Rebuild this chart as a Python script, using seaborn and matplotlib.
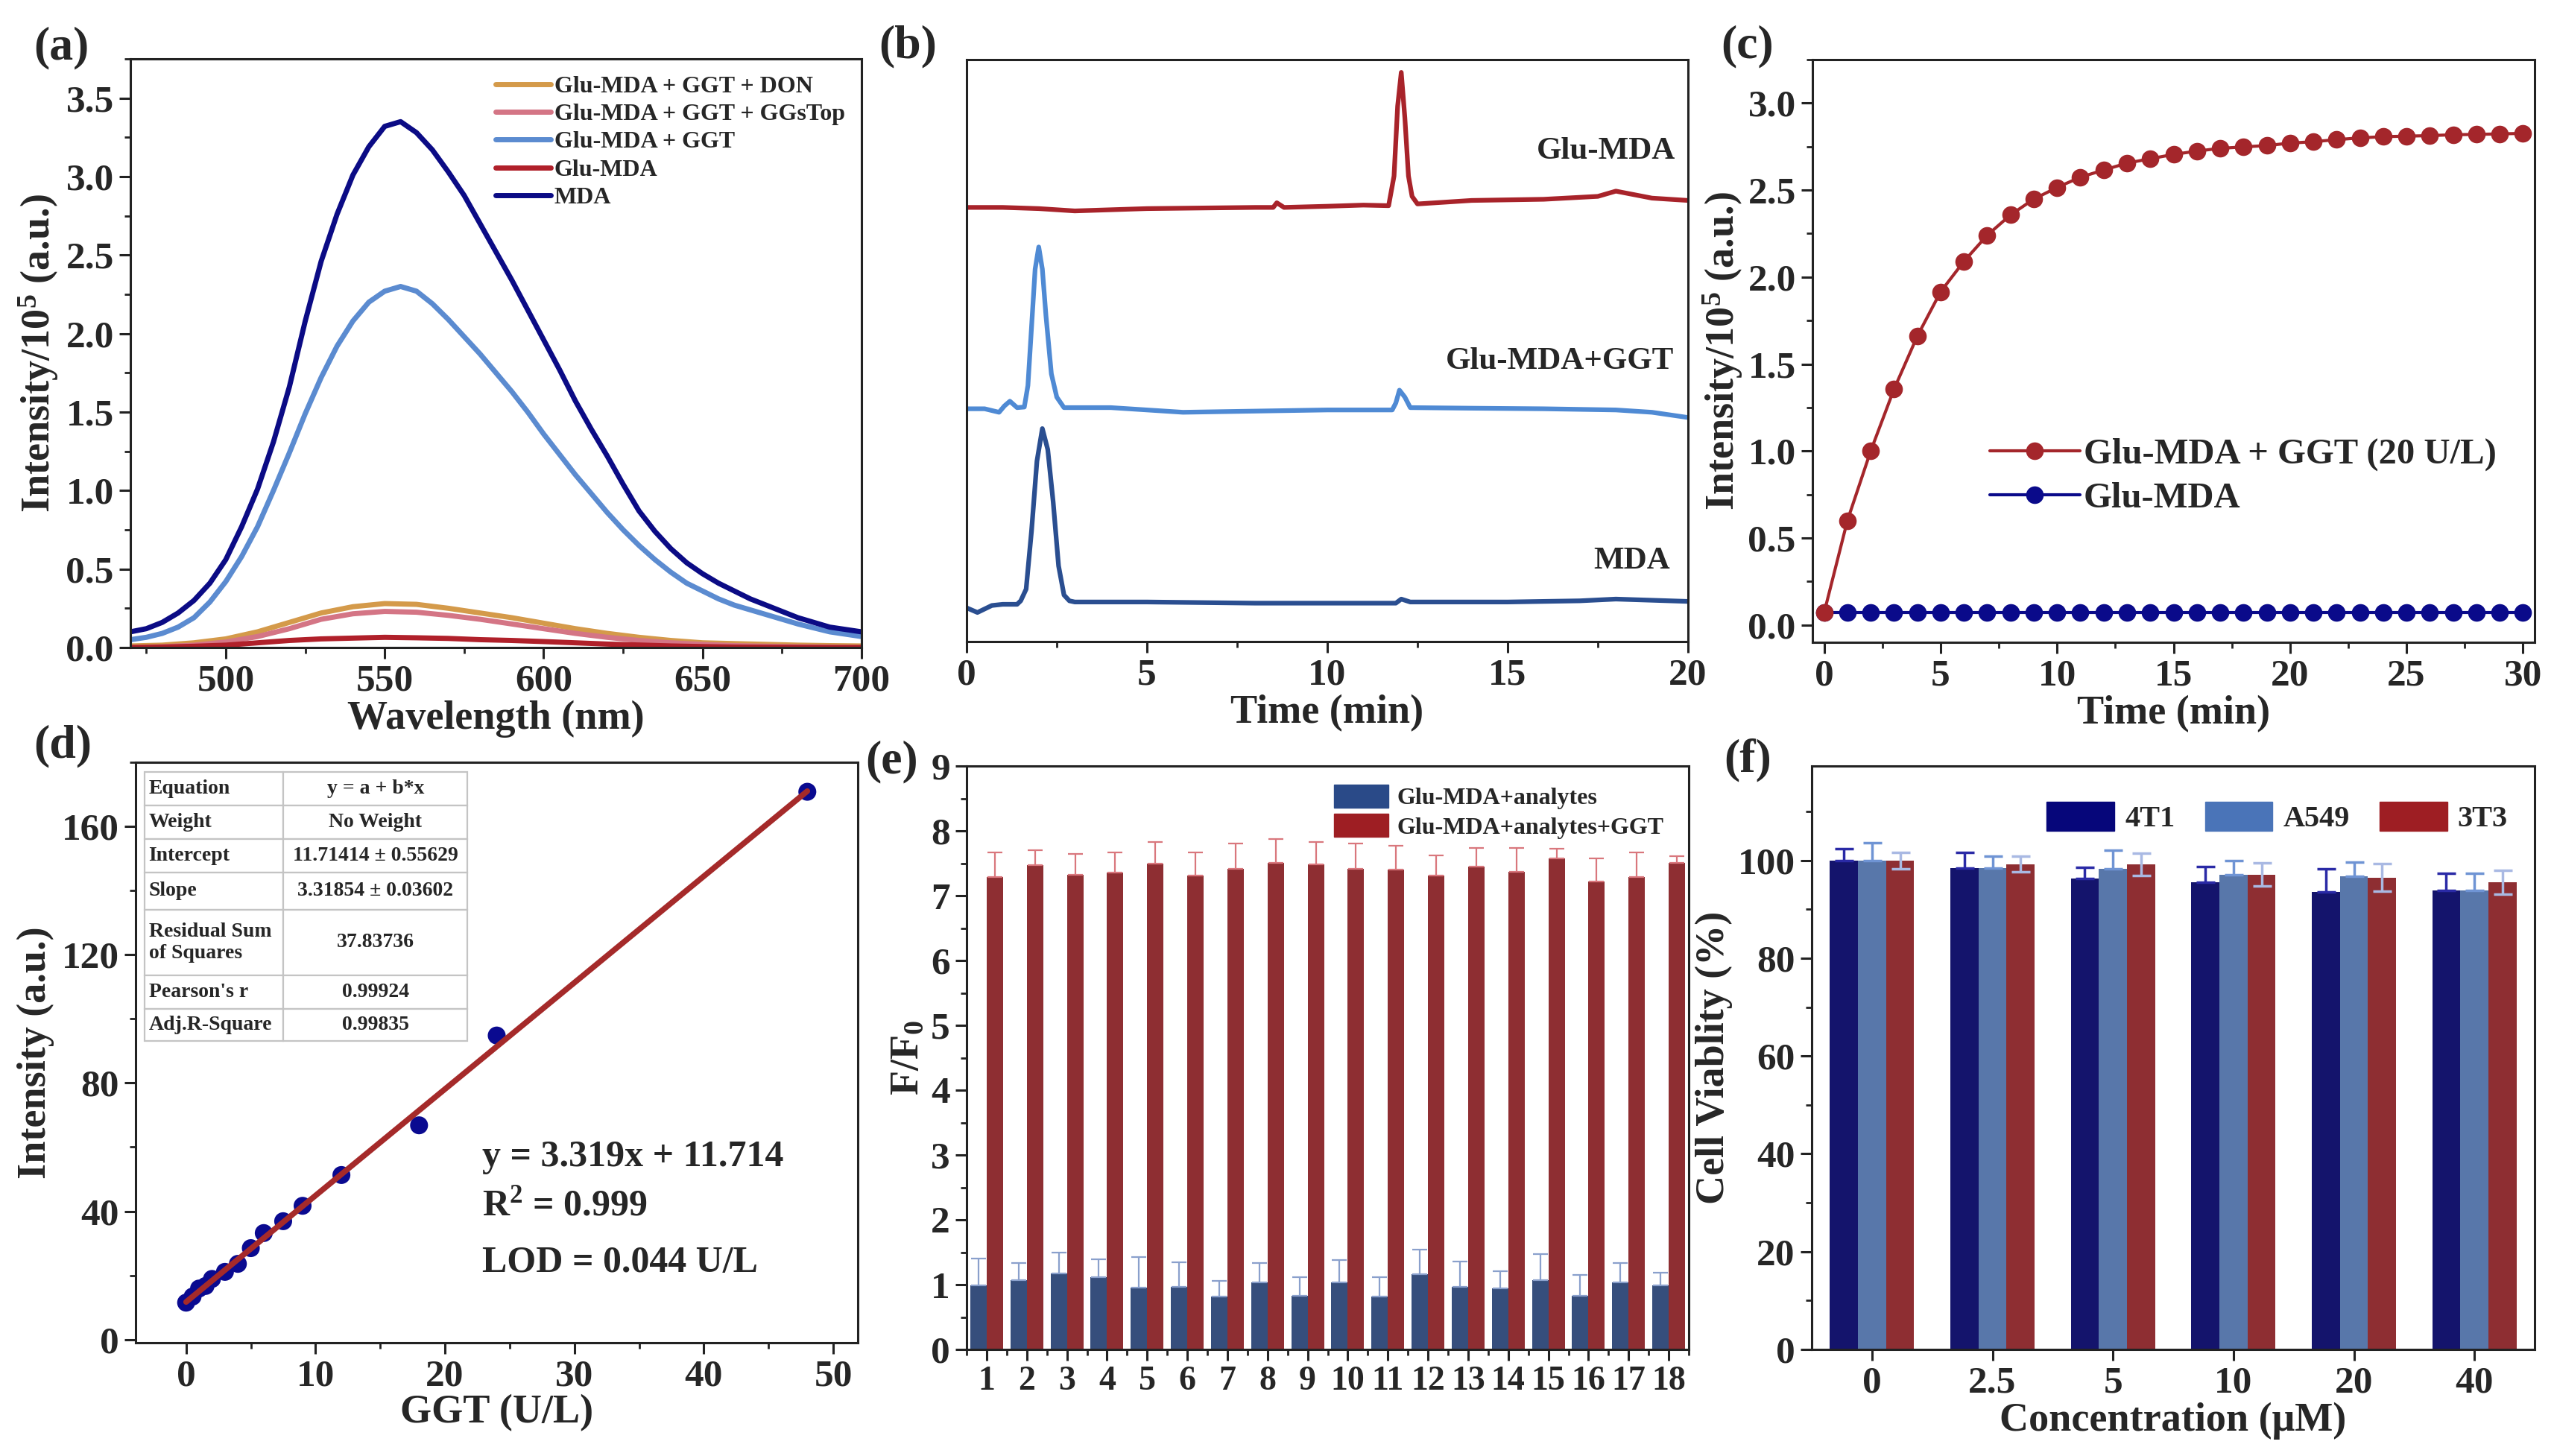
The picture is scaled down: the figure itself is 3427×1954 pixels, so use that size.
import numpy as np
import pandas as pd
import seaborn as sns
import matplotlib.pyplot as plt
from matplotlib.ticker import MultipleLocator, FixedLocator, NullLocator
from matplotlib.patches import Patch

# === Data: (a) emission spectra ===
# strong emitters read every 5 nm, weak ones every 10 nm
wavelength_fine = [470, 475, 480, 485, 490, 495, 500, 505, 510, 515, 520, 525, 530, 535,
                   540, 545, 550, 555, 560, 565, 570, 575, 580, 585, 590, 595, 600, 605,
                   610, 615, 620, 625, 630, 635, 640, 645, 650, 655, 660, 665, 670, 675,
                   680, 685, 690, 695, 700]
spec_mda = [0.10, 0.12, 0.16, 0.22, 0.30, 0.41, 0.56, 0.77, 1.01, 1.31, 1.66, 2.08, 2.46, 2.76,
            3.01, 3.19, 3.32, 3.35, 3.28, 3.17, 3.03, 2.88, 2.70, 2.52, 2.34, 2.15, 1.96, 1.77,
            1.57, 1.39, 1.22, 1.04, 0.87, 0.74, 0.63, 0.54, 0.47, 0.41, 0.36, 0.31, 0.27, 0.23,
            0.19, 0.16, 0.13, 0.115, 0.10]
spec_ggt = [0.05, 0.065, 0.09, 0.13, 0.19, 0.29, 0.42, 0.58, 0.77, 1.00, 1.24, 1.49, 1.72, 1.92,
            2.08, 2.20, 2.27, 2.30, 2.27, 2.19, 2.09, 1.98, 1.87, 1.75, 1.63, 1.50, 1.36, 1.23,
            1.10, 0.98, 0.86, 0.75, 0.65, 0.56, 0.48, 0.41, 0.36, 0.31, 0.27, 0.24, 0.21, 0.18,
            0.15, 0.125, 0.10, 0.085, 0.07]
wavelength = [470, 480, 490, 500, 510, 520, 530, 540, 550, 560, 570, 580,
              590, 600, 610, 620, 630, 640, 650, 660, 670, 680, 690, 700]
spec_don = [0.01, 0.015, 0.03, 0.055, 0.10, 0.16, 0.22, 0.26, 0.28, 0.275, 0.25, 0.22,
            0.19, 0.155, 0.12, 0.09, 0.065, 0.045, 0.03, 0.025, 0.02, 0.015, 0.012, 0.01]
spec_ggstop = [0.0, 0.005, 0.015, 0.035, 0.07, 0.12, 0.18, 0.215, 0.23, 0.225, 0.205, 0.18,
               0.15, 0.12, 0.09, 0.065, 0.045, 0.03, 0.02, 0.012, 0.008, 0.005, 0.003, 0.0]
spec_glu = [0.0, 0.003, 0.008, 0.015, 0.03, 0.045, 0.055, 0.06, 0.065, 0.062, 0.058, 0.05,
            0.045, 0.038, 0.03, 0.022, 0.016, 0.01, 0.006, 0.003, 0.002, 0.001, 0.0, 0.0]

# === Data: (b) HPLC traces (arbitrary units) ===
hplc_glu_t = [0, 1, 2, 3, 5, 8, 8.5, 8.6, 8.8, 10, 11, 11.7, 11.85, 11.95, 12.05,
              12.15, 12.25, 12.35, 12.5, 14, 16, 17.5, 18, 18.5, 19, 20]
hplc_glu_y = [74.6, 74.6, 74.4, 74.0, 74.4, 74.6, 74.6, 75.4, 74.6, 74.8, 75.0, 74.9, 80,
              92, 97.8, 90, 80, 76.5, 75.2, 75.8, 76.0, 76.5, 77.4, 76.8, 76.2, 75.8]
hplc_ggt_t = [0, 0.5, 0.9, 1.05, 1.2, 1.4, 1.6, 1.7, 1.8, 1.9, 2.0, 2.1, 2.2, 2.35, 2.5,
              2.7, 4, 6, 8, 10, 11.8, 11.9, 12.0, 12.15, 12.3, 14, 16, 18, 19, 20]
hplc_ggt_y = [40, 40, 39.4, 40.5, 41.3, 40.2, 40.3, 44, 54, 64, 67.8, 64, 56, 46, 42,
              40.2, 40.2, 39.4, 39.6, 39.8, 39.8, 41, 43.2, 42, 40.2, 40.1, 40.0, 39.8, 39.4, 38.5]
hplc_mda_t = [0, 0.3, 0.7, 1.0, 1.4, 1.5, 1.65, 1.8, 1.95, 2.1, 2.25, 2.4, 2.55, 2.7,
              2.85, 3.0, 5, 8, 10, 11.9, 12.05, 12.3, 15, 17, 18, 20]
hplc_mda_y = [5.8, 5.0, 6.2, 6.4, 6.4, 7.0, 9, 19, 31, 36.6, 33, 24, 13, 8, 7.0, 6.8,
              6.8, 6.6, 6.6, 6.6, 7.3, 6.8, 6.8, 7.0, 7.3, 6.9]

# === Data: (c) kinetics ===
time_min = [0, 1, 2, 3, 4, 5, 6, 7, 8, 9, 10, 11, 12, 13, 14, 15,
            16, 17, 18, 19, 20, 21, 22, 23, 24, 25, 26, 27, 28, 29, 30]
kin_ggt = [0.07, 0.60, 1.00, 1.355, 1.66, 1.915, 2.09, 2.24, 2.357, 2.448, 2.515,
           2.574, 2.615, 2.655, 2.68, 2.705, 2.724, 2.74, 2.748, 2.756, 2.77, 2.778,
           2.79, 2.80, 2.807, 2.81, 2.813, 2.818, 2.82, 2.823, 2.826]
kin_glu = [0.07, 0.07, 0.07, 0.07, 0.07, 0.07, 0.07, 0.07, 0.07, 0.07, 0.07,
           0.07, 0.07, 0.07, 0.07, 0.07, 0.07, 0.07, 0.07, 0.07, 0.07, 0.07,
           0.07, 0.07, 0.07, 0.07, 0.07, 0.07, 0.07, 0.07, 0.07]

# === Data: (d) calibration ===
ggt_conc = [0, 0.5, 1, 1.5, 2, 3, 4, 5, 6, 7.5, 9, 12, 18, 24, 48]
ggt_int = [11.5, 13.4, 15.9, 16.7, 18.9, 21.1, 23.6, 28.5, 33.2, 36.9, 41.7, 51.3, 66.8, 94.8, 170.8]
fit_intercept = 11.71414
fit_slope = 3.31854
fit_rows = [["Equation", "y = a + b*x"],
            ["Weight", "No Weight"],
            ["Intercept", "11.71414 ± 0.55629"],
            ["Slope", "3.31854 ± 0.03602"],
            ["Residual Sum\nof Squares", "37.83736"],
            ["Pearson's r", "0.99924"],
            ["Adj.R-Square", "0.99835"]]

# === Data: (e) selectivity ===
analytes = ["1", "2", "3", "4", "5", "6", "7", "8", "9", "10", "11", "12",
            "13", "14", "15", "16", "17", "18"]
sel_blank = [0.985, 1.07, 1.17, 1.11, 0.95, 0.96, 0.82, 1.04, 0.83, 1.04, 0.82, 1.16,
             0.96, 0.94, 1.07, 0.83, 1.04, 0.985]
sel_blank_err = [0.42, 0.26, 0.32, 0.28, 0.47, 0.38, 0.24, 0.29, 0.28, 0.34, 0.29, 0.38,
                 0.40, 0.27, 0.40, 0.32, 0.29, 0.20]
sel_ggt = [7.29, 7.47, 7.32, 7.36, 7.49, 7.31, 7.41, 7.51, 7.48, 7.41, 7.40, 7.31,
           7.45, 7.37, 7.58, 7.22, 7.29, 7.51]
sel_ggt_err = [0.38, 0.23, 0.32, 0.31, 0.34, 0.36, 0.39, 0.36, 0.35, 0.39, 0.37, 0.31,
               0.29, 0.36, 0.14, 0.36, 0.38, 0.10]

# === Data: (f) cell viability ===
conc_labels = ["0", "2.5", "5", "10", "20", "40"]
via_4t1 = [100.0, 98.5, 96.3, 95.5, 93.5, 93.9]
via_4t1_err = [2.4, 3.2, 2.3, 3.2, 4.7, 3.4]
via_a549 = [100.0, 98.5, 98.3, 97.1, 96.8, 93.9]
via_a549_err = [3.6, 2.4, 3.8, 2.8, 2.8, 3.4]
via_3t3 = [100.0, 99.2, 99.2, 97.1, 96.5, 95.5]
via_3t3_err = [1.7, 1.6, 2.3, 2.4, 2.8, 2.4]

# === Style ===
sns.set_theme(style="ticks")
plt.rcParams["font.family"] = ["Liberation Serif", "DejaVu Serif"]
plt.rcParams["font.weight"] = "bold"
plt.rcParams["axes.labelweight"] = "bold"
plt.rcParams["mathtext.fontset"] = "custom"
plt.rcParams["mathtext.rm"] = "Liberation Serif:bold"
plt.rcParams["mathtext.bf"] = "Liberation Serif:bold"
plt.rcParams["mathtext.it"] = "Liberation Serif:bold"

TICK = 37
LABEL = 39
W, H = 3427, 1954


def box(l, t, r, b):
    return [l / W, 1 - b / H, (r - l) / W, (b - t) / H]


def style(ax, labelsize=TICK):
    ax.tick_params(which="major", direction="out", length=11, width=2.2,
                   labelsize=labelsize, pad=5, top=False, right=False, color="#222222")
    ax.tick_params(which="minor", direction="out", length=6, width=2.0,
                   top=False, right=False, color="#222222")
    for s in ax.spines.values():
        s.set_visible(True)
        s.set_linewidth(2.2)
        s.set_color("#222222")


fig = plt.figure(figsize=(W / 100, H / 100), dpi=100)
fig.patch.set_facecolor("white")

# === (a) spectra ===
ax = fig.add_axes(box(175, 79, 1156, 869))
series_a = [("Glu-MDA + GGT + DON", wavelength, spec_don, "#d49a4a"),
            ("Glu-MDA + GGT + GGsTop", wavelength, spec_ggstop, "#d47585"),
            ("Glu-MDA + GGT", wavelength_fine, spec_ggt, "#5b8bd0"),
            ("Glu-MDA", wavelength, spec_glu, "#b0202a"),
            ("MDA", wavelength_fine, spec_mda, "#0b0b85")]
for name, wl, vals, col in series_a:
    sns.lineplot(x=wl, y=vals, color=col, lw=5, label=name, ax=ax)
ax.set_xlim(470, 700)
ax.set_ylim(0, 3.75)
ax.xaxis.set_major_locator(MultipleLocator(50))
ax.xaxis.set_minor_locator(MultipleLocator(25))
ax.yaxis.set_major_locator(MultipleLocator(0.5))
ax.yaxis.set_minor_locator(MultipleLocator(0.25))
ax.yaxis.set_major_formatter(plt.FormatStrFormatter("%.1f"))
style(ax)
ax.set_xlabel("Wavelength (nm)", fontsize=LABEL, labelpad=2)
ax.set_ylabel("Intensity/10$^5$ (a.u.)", fontsize=LABEL, labelpad=5)
ax.legend(loc="upper right", frameon=False, fontsize=23, handlelength=2.3,
          handletextpad=0.15, labelspacing=0.25, borderaxespad=0.3)

# === (b) HPLC ===
ax = fig.add_axes(box(1297, 80, 2265, 861))
sns.lineplot(x=hplc_glu_t, y=hplc_glu_y, color="#a8232a", lw=4.5, ax=ax)
sns.lineplot(x=hplc_ggt_t, y=hplc_ggt_y, color="#4f8ad4", lw=4.5, ax=ax)
sns.lineplot(x=hplc_mda_t, y=hplc_mda_y, color="#2a4e90", lw=4.5, ax=ax)
ax.set_xlim(0, 20)
ax.set_ylim(0, 100)
ax.xaxis.set_major_locator(MultipleLocator(5))
ax.xaxis.set_minor_locator(MultipleLocator(2.5))
ax.yaxis.set_major_locator(NullLocator())
style(ax)
ax.text(19.65, 84.2, "Glu-MDA", ha="right", va="center", fontsize=31)
ax.text(19.6, 48.2, "Glu-MDA+GGT", ha="right", va="center", fontsize=31)
ax.text(19.5, 13.8, "MDA", ha="right", va="center", fontsize=31)
ax.set_xlabel("Time (min)", fontsize=LABEL, labelpad=2)

# === (c) kinetics ===
ax = fig.add_axes(box(2432, 80, 3401, 862))
sns.lineplot(x=time_min, y=kin_glu, color="#0a0a8a", lw=3, marker="o", markersize=17,
             markeredgewidth=0, label="Glu-MDA", ax=ax)
sns.lineplot(x=time_min, y=kin_ggt, color="#a4262b", lw=3, marker="o", markersize=17,
             markeredgewidth=0, label="Glu-MDA + GGT (20 U/L)", ax=ax)
ax.set_xlim(-0.5, 30.5)
ax.set_ylim(-0.1, 3.25)
ax.xaxis.set_major_locator(MultipleLocator(5))
ax.xaxis.set_minor_locator(MultipleLocator(2.5))
ax.yaxis.set_major_locator(MultipleLocator(0.5))
ax.yaxis.set_minor_locator(MultipleLocator(0.25))
ax.yaxis.set_major_formatter(plt.FormatStrFormatter("%.1f"))
style(ax)
ax.set_xlabel("Time (min)", fontsize=LABEL, labelpad=2)
ax.set_ylabel("Intensity/10$^5$ (a.u.)", fontsize=LABEL, labelpad=3)
h, l = ax.get_legend_handles_labels()
ax.legend(h[::-1], l[::-1], loc="center left", bbox_to_anchor=(0.2, 0.285), frameon=False,
          fontsize=35, handlelength=2.5, handletextpad=0.1, labelspacing=0.3)

# === (d) calibration ===
ax = fig.add_axes(box(182, 1023, 1151, 1802))
sns.scatterplot(x=ggt_conc, y=ggt_int, color="#0a0a90", s=300, edgecolor="none", ax=ax, zorder=3)
fit_x = np.array([min(ggt_conc), max(ggt_conc)])
ax.plot(fit_x, fit_intercept + fit_slope * fit_x, color="#a52a2a", lw=5.5, zorder=4)
ax.set_xlim(-3.9, 51.9)
ax.set_ylim(-1, 180)
ax.xaxis.set_major_locator(MultipleLocator(10))
ax.xaxis.set_minor_locator(MultipleLocator(5))
ax.yaxis.set_major_locator(MultipleLocator(40))
ax.yaxis.set_minor_locator(MultipleLocator(20))
style(ax)
ax.set_xlabel("GGT (U/L)", fontsize=LABEL, labelpad=1)
ax.set_ylabel("Intensity (a.u.)", fontsize=LABEL, labelpad=7)
tb = ax.table(cellText=fit_rows, colWidths=[0.43, 0.57], cellLoc="center",
              bbox=[0.0124, 0.52, 0.447, 0.463], zorder=5)
tb.auto_set_font_size(False)
tb.set_fontsize(20)
row_h = [135, 135, 135, 150, 265, 135, 130]
for (r, c), cell in tb.get_celld().items():
    cell.set_height(row_h[r])
    cell.set_edgecolor("#c4c4c4")
    cell.set_linewidth(1.6)
    cell.get_text().set_fontweight("bold")
    if c == 0:
        cell.PAD = 0.03
        cell.get_text().set_horizontalalignment("left")
ax.text(0.48, 0.32, "y = 3.319x + 11.714", transform=ax.transAxes, fontsize=36, va="center")
ax.text(0.48, 0.235, "R$^2$ = 0.999", transform=ax.transAxes, fontsize=36, va="center")
ax.text(0.48, 0.137, "LOD = 0.044 U/L", transform=ax.transAxes, fontsize=36, va="center")

# === (e) selectivity ===
ax = fig.add_axes(box(1297, 1028, 2266, 1811))
sel_df = pd.DataFrame({
    "analyte": analytes * 2,
    "ratio": sel_blank + sel_ggt,
    "group": ["Glu-MDA+analytes"] * len(analytes) + ["Glu-MDA+analytes+GGT"] * len(analytes),
})
sel_cols = ["#2a4a88", "#9e1e23"]
sns.barplot(data=sel_df, x="analyte", y="ratio", hue="group", palette=sel_cols,
            width=0.82, errorbar=None, linewidth=0, legend=False, ax=ax)
bar_sets = list(ax.containers)
for cont, errs, ecol in zip(bar_sets, [sel_blank_err, sel_ggt_err], ["#8aa0cc", "#d9777d"]):
    xs = [b.get_x() + b.get_width() / 2 for b in cont]
    hs = [b.get_height() for b in cont]
    ax.errorbar(xs, hs, yerr=[[0] * len(errs), errs], fmt="none", ecolor=ecol,
                elinewidth=1.6, capsize=7, capthick=1.6, zorder=1)
ax.set_xlim(-0.5, len(analytes) - 0.5)
ax.set_ylim(0, 9)
ax.yaxis.set_major_locator(MultipleLocator(1))
ax.yaxis.set_minor_locator(MultipleLocator(0.5))
ax.xaxis.set_minor_locator(FixedLocator(np.arange(-0.5, len(analytes), 1)))
style(ax)
ax.tick_params(axis="x", which="major", labelsize=33)
ax.set_xlabel("")
ax.set_ylabel("F/F$_0$", fontsize=LABEL, labelpad=4)
ax.legend(handles=[Patch(color=c, label=g) for c, g in zip(sel_cols, ["Glu-MDA+analytes", "Glu-MDA+analytes+GGT"])],
          loc="upper right", bbox_to_anchor=(0.995, 1.005), frameon=False, fontsize=23,
          handlelength=2.3, handleheight=1.1, handletextpad=0.35, labelspacing=0.2)

# === (f) viability ===
ax = fig.add_axes(box(2431, 1028, 3401, 1811))
via_df = pd.DataFrame({
    "conc": conc_labels * 3,
    "viability": via_4t1 + via_a549 + via_3t3,
    "cell": ["4T1"] * 6 + ["A549"] * 6 + ["3T3"] * 6,
})
via_cols = ["#06067a", "#4a74b8", "#9e1e23"]
sns.barplot(data=via_df, x="conc", y="viability", hue="cell", palette=via_cols,
            width=0.7, errorbar=None, linewidth=0, legend=False, ax=ax)
bar_sets = list(ax.containers)
err_specs = [(via_4t1_err, "#2a2aa6", False), (via_a549_err, "#6f94d4", False), (via_3t3_err, "#a9b9e3", True)]
for cont, (errs, ecol, both) in zip(bar_sets, err_specs):
    xs = [b.get_x() + b.get_width() / 2 for b in cont]
    hs = [b.get_height() for b in cont]
    lower = errs if both else [0] * len(errs)
    ax.errorbar(xs, hs, yerr=[lower, errs], fmt="none", ecolor=ecol,
                elinewidth=2.5, capsize=9, capthick=2.5, zorder=3)
ax.set_xlim(-0.5, 5.5)
ax.set_ylim(0, 119.3)
ax.yaxis.set_major_locator(MultipleLocator(20))
ax.yaxis.set_minor_locator(MultipleLocator(10))
style(ax)
ax.set_xlabel("Concentration (μM)", fontsize=LABEL, labelpad=2)
ax.set_ylabel("Cell Viablity (%)", fontsize=LABEL, labelpad=5)
ax.legend(handles=[Patch(color=c, label=g) for c, g in zip(via_cols, ["4T1", "A549", "3T3"])],
          loc="upper right", bbox_to_anchor=(1.0, 0.985), frameon=False, fontsize=29, ncol=3,
          handlelength=2.25, handleheight=1.1, handletextpad=0.35, columnspacing=1.0)

# === Panel letters ===
for lab, x, y in [("(a)", 45, 64), ("(b)", 1179, 62), ("(c)", 2309, 62),
                  ("(d)", 45, 1001), ("(e)", 1161, 1022), ("(f)", 2313, 1020)]:
    fig.text(x / W, 1 - y / H, lab, fontsize=46, fontweight="bold", ha="left", va="center")

fig.savefig("out.png", dpi=100, facecolor="white")
